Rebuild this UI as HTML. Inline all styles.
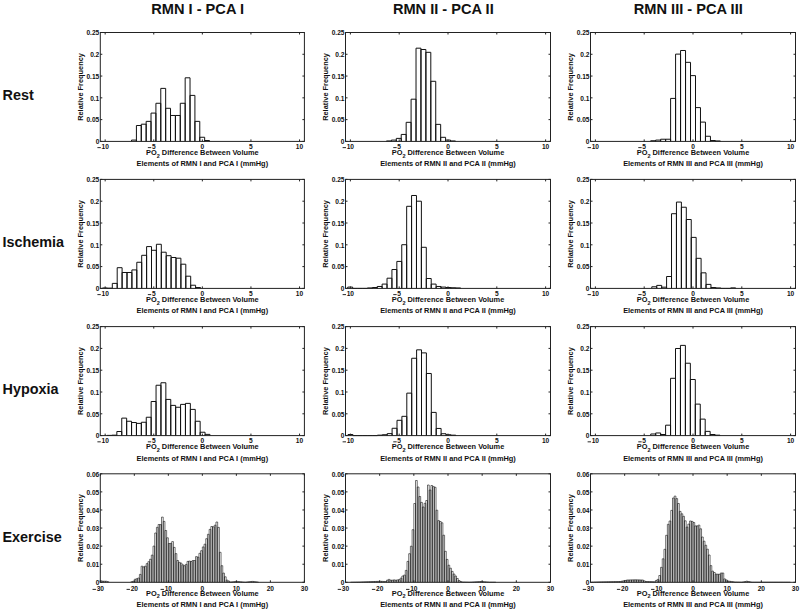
<!DOCTYPE html>
<html><head><meta charset="utf-8"><style>
html,body{margin:0;padding:0;background:#fff;}
svg{display:block;}
text{font-family:"Liberation Sans",sans-serif;fill:#111;}
.title{font-size:14.6px;font-weight:bold;}
.rowlab{font-size:14.4px;font-weight:bold;}
.tl{font-size:6.6px;font-weight:bold;}
.minus{fill:#111;}
.lab{font-size:7.4px;font-weight:bold;}
.box{fill:none;stroke:#222;stroke-width:1;}
.tick{fill:none;stroke:#222;stroke-width:1;}
.bars{fill:#fff;stroke:#111;stroke-width:1;}
.bars4{fill:#fff;stroke:#111;stroke-width:0.6;}
</style></head><body>
<svg width="800" height="613" viewBox="0 0 800 613">
<rect width="800" height="613" fill="#fff"/>
<text x="197.65" y="13.8" class="title" text-anchor="middle">RMN I - PCA I</text>
<text x="443.3" y="13.8" class="title" text-anchor="middle">RMN II - PCA II</text>
<text x="688.3" y="13.8" class="title" text-anchor="middle">RMN III - PCA III</text>
<text x="2.5" y="99.8" class="rowlab">Rest</text>
<text x="2.5" y="246.8" class="rowlab">Ischemia</text>
<text x="2.5" y="394.2" class="rowlab">Hypoxia</text>
<text x="2.5" y="541.5" class="rowlab">Exercise</text>
<path class="bars" d="M131.53 141.4V140.09H136.41V141.4M136.41 141.4V125.5H141.28V141.4M141.28 141.4V124.19H146.16V141.4M146.16 141.4V121.36H151.03V141.4M151.03 141.4V113.09H155.91V141.4M155.91 141.4V103.28H160.78V141.4M160.78 141.4V88.39H165.66V141.4M165.66 141.4V108.29H170.53V141.4M170.53 141.4V115.48H175.41V141.4M175.41 141.4V115.48H180.28V141.4M180.28 141.4V103.28H185.16V141.4M185.16 141.4V77.8H190.03V141.4M190.03 141.4V95.4H194.91V141.4M194.91 141.4V121.36H199.78V141.4M199.78 141.4V137.26H204.66V141.4M204.66 141.4V140.53H209.53V141.4"/>
<rect class="box" x="100.3" y="32.5" width="204.1" height="108.9"/>
<path class="tick" d="M105.16 141.4v-2M105.16 32.5v2M153.75 141.4v-2M153.75 32.5v2M202.35 141.4v-2M202.35 32.5v2M250.95 141.4v-2M250.95 32.5v2M299.54 141.4v-2M299.54 32.5v2M100.3 141.4h2M304.4 141.4h-2M100.3 119.62h2M304.4 119.62h-2M100.3 97.84h2M304.4 97.84h-2M100.3 76.06h2M304.4 76.06h-2M100.3 54.28h2M304.4 54.28h-2M100.3 32.5h2M304.4 32.5h-2"/>
<text class="tl" x="105.16" y="149" text-anchor="middle">10</text>
<rect class="minus" x="97.39" y="147.2" width="3.4" height="0.9"/>
<text class="tl" x="153.75" y="149" text-anchor="middle">5</text>
<rect class="minus" x="147.82" y="147.2" width="3.4" height="0.9"/>
<text class="tl" x="202.35" y="149" text-anchor="middle">0</text>
<text class="tl" x="250.95" y="149" text-anchor="middle">5</text>
<text class="tl" x="299.54" y="149" text-anchor="middle">10</text>
<text class="tl" x="99.3" y="144.2" text-anchor="end">0</text>
<text class="tl" x="99.3" y="122.42" text-anchor="end">0.05</text>
<text class="tl" x="99.3" y="100.64" text-anchor="end">0.1</text>
<text class="tl" x="99.3" y="78.86" text-anchor="end">0.15</text>
<text class="tl" x="99.3" y="57.08" text-anchor="end">0.2</text>
<text class="tl" x="99.3" y="35.3" text-anchor="end">0.25</text>
<text class="lab" transform="translate(82.9,86.95) rotate(-90)" text-anchor="middle">Relative Frequency</text>
<text class="lab" x="202.35" y="155" text-anchor="middle">PO<tspan dy="2.5" font-size="5.5">2</tspan><tspan dy="-2.5"> Difference Between Volume</tspan></text>
<text class="lab" x="202.35" y="166.3" text-anchor="middle">Elements of RMN I and PCA I (mmHg)</text>
<path class="bars" d="M386.44 141.4V140.96H391.37V141.4M391.37 141.4V140.09H396.3V141.4M396.3 141.4V138.39H401.23V141.4M401.23 141.4V134.43H406.16V141.4M406.16 141.4V122.32H411.09V141.4M411.09 141.4V99.19H416.02V141.4M416.02 141.4V48.18H420.95V141.4M420.95 141.4V49.49H425.88V141.4M425.88 141.4V52.32H430.81V141.4M430.81 141.4V81.29H435.74V141.4M435.74 141.4V124.37H440.67V141.4M440.67 141.4V137.31H445.6V141.4M445.6 141.4V140.09H450.53V141.4M450.53 141.4V140.96H455.46V141.4"/>
<rect class="box" x="345.5" y="32.5" width="205" height="108.9"/>
<path class="tick" d="M350.38 141.4v-2M350.38 32.5v2M399.19 141.4v-2M399.19 32.5v2M448 141.4v-2M448 32.5v2M496.81 141.4v-2M496.81 32.5v2M545.62 141.4v-2M545.62 32.5v2M345.5 141.4h2M550.5 141.4h-2M345.5 119.62h2M550.5 119.62h-2M345.5 97.84h2M550.5 97.84h-2M345.5 76.06h2M550.5 76.06h-2M345.5 54.28h2M550.5 54.28h-2M345.5 32.5h2M550.5 32.5h-2"/>
<text class="tl" x="350.38" y="149" text-anchor="middle">10</text>
<rect class="minus" x="342.61" y="147.2" width="3.4" height="0.9"/>
<text class="tl" x="399.19" y="149" text-anchor="middle">5</text>
<rect class="minus" x="393.26" y="147.2" width="3.4" height="0.9"/>
<text class="tl" x="448" y="149" text-anchor="middle">0</text>
<text class="tl" x="496.81" y="149" text-anchor="middle">5</text>
<text class="tl" x="545.62" y="149" text-anchor="middle">10</text>
<text class="tl" x="344.5" y="144.2" text-anchor="end">0</text>
<text class="tl" x="344.5" y="122.42" text-anchor="end">0.05</text>
<text class="tl" x="344.5" y="100.64" text-anchor="end">0.1</text>
<text class="tl" x="344.5" y="78.86" text-anchor="end">0.15</text>
<text class="tl" x="344.5" y="57.08" text-anchor="end">0.2</text>
<text class="tl" x="344.5" y="35.3" text-anchor="end">0.25</text>
<text class="lab" transform="translate(328.1,86.95) rotate(-90)" text-anchor="middle">Relative Frequency</text>
<text class="lab" x="448" y="155" text-anchor="middle">PO<tspan dy="2.5" font-size="5.5">2</tspan><tspan dy="-2.5"> Difference Between Volume</tspan></text>
<text class="lab" x="448" y="166.3" text-anchor="middle">Elements of RMN II and PCA II (mmHg)</text>
<path class="bars" d="M650.68 141.4V140.75H655.66V141.4M655.66 141.4V140.09H660.64V141.4M660.64 141.4V139.22H665.62V141.4M665.62 141.4V139.22H670.6V141.4M670.6 141.4V98.41H675.58V141.4M675.58 141.4V54.11H680.56V141.4M680.56 141.4V50.49H685.54V141.4M685.54 141.4V62.34H690.52V141.4M690.52 141.4V75.62H695.5V141.4M695.5 141.4V107.6H700.48V141.4M700.48 141.4V122.1H705.46V141.4M705.46 141.4V136.26H710.44V141.4M710.44 141.4V140.53H715.42V141.4M715.42 141.4V140.96H720.4V141.4"/>
<rect class="box" x="590.5" y="32.5" width="205" height="108.9"/>
<path class="tick" d="M595.38 141.4v-2M595.38 32.5v2M644.19 141.4v-2M644.19 32.5v2M693 141.4v-2M693 32.5v2M741.81 141.4v-2M741.81 32.5v2M790.62 141.4v-2M790.62 32.5v2M590.5 141.4h2M795.5 141.4h-2M590.5 119.62h2M795.5 119.62h-2M590.5 97.84h2M795.5 97.84h-2M590.5 76.06h2M795.5 76.06h-2M590.5 54.28h2M795.5 54.28h-2M590.5 32.5h2M795.5 32.5h-2"/>
<text class="tl" x="595.38" y="149" text-anchor="middle">10</text>
<rect class="minus" x="587.61" y="147.2" width="3.4" height="0.9"/>
<text class="tl" x="644.19" y="149" text-anchor="middle">5</text>
<rect class="minus" x="638.26" y="147.2" width="3.4" height="0.9"/>
<text class="tl" x="693" y="149" text-anchor="middle">0</text>
<text class="tl" x="741.81" y="149" text-anchor="middle">5</text>
<text class="tl" x="790.62" y="149" text-anchor="middle">10</text>
<text class="tl" x="589.5" y="144.2" text-anchor="end">0</text>
<text class="tl" x="589.5" y="122.42" text-anchor="end">0.05</text>
<text class="tl" x="589.5" y="100.64" text-anchor="end">0.1</text>
<text class="tl" x="589.5" y="78.86" text-anchor="end">0.15</text>
<text class="tl" x="589.5" y="57.08" text-anchor="end">0.2</text>
<text class="tl" x="589.5" y="35.3" text-anchor="end">0.25</text>
<text class="lab" transform="translate(573.1,86.95) rotate(-90)" text-anchor="middle">Relative Frequency</text>
<text class="lab" x="693" y="155" text-anchor="middle">PO<tspan dy="2.5" font-size="5.5">2</tspan><tspan dy="-2.5"> Difference Between Volume</tspan></text>
<text class="lab" x="693" y="166.3" text-anchor="middle">Elements of RMN III and PCA III (mmHg)</text>
<path class="bars" d="M102.5 288.4V287.96H107.4V288.4M107.4 288.4V288.18H112.3V288.4M112.3 288.4V283.39H117.2V288.4M117.2 288.4V267.69H122.1V288.4M122.1 288.4V272.49H127V288.4M127 288.4V272.49H131.9V288.4M131.9 288.4V269.91H136.8V288.4M136.8 288.4V262.28H141.7V288.4M141.7 288.4V255.31H146.6V288.4M146.6 288.4V246.59H151.5V288.4M151.5 288.4V250.29H156.4V288.4M156.4 288.4V244.28H161.3V288.4M161.3 288.4V252.21H166.2V288.4M166.2 288.4V255.7H171.1V288.4M171.1 288.4V257.49H176V288.4M176 288.4V258.19H180.9V288.4M180.9 288.4V264.2H185.8V288.4M185.8 288.4V276.19H190.7V288.4M190.7 288.4V285.22H195.6V288.4M195.6 288.4V287.53H200.5V288.4"/>
<rect class="box" x="100.3" y="179.4" width="204.1" height="109"/>
<path class="tick" d="M105.16 288.4v-2M105.16 179.4v2M153.75 288.4v-2M153.75 179.4v2M202.35 288.4v-2M202.35 179.4v2M250.95 288.4v-2M250.95 179.4v2M299.54 288.4v-2M299.54 179.4v2M100.3 288.4h2M304.4 288.4h-2M100.3 266.6h2M304.4 266.6h-2M100.3 244.8h2M304.4 244.8h-2M100.3 223h2M304.4 223h-2M100.3 201.2h2M304.4 201.2h-2M100.3 179.4h2M304.4 179.4h-2"/>
<text class="tl" x="105.16" y="296" text-anchor="middle">10</text>
<rect class="minus" x="97.39" y="294.2" width="3.4" height="0.9"/>
<text class="tl" x="153.75" y="296" text-anchor="middle">5</text>
<rect class="minus" x="147.82" y="294.2" width="3.4" height="0.9"/>
<text class="tl" x="202.35" y="296" text-anchor="middle">0</text>
<text class="tl" x="250.95" y="296" text-anchor="middle">5</text>
<text class="tl" x="299.54" y="296" text-anchor="middle">10</text>
<text class="tl" x="99.3" y="291.2" text-anchor="end">0</text>
<text class="tl" x="99.3" y="269.4" text-anchor="end">0.05</text>
<text class="tl" x="99.3" y="247.6" text-anchor="end">0.1</text>
<text class="tl" x="99.3" y="225.8" text-anchor="end">0.15</text>
<text class="tl" x="99.3" y="204" text-anchor="end">0.2</text>
<text class="tl" x="99.3" y="182.2" text-anchor="end">0.25</text>
<text class="lab" transform="translate(82.9,233.9) rotate(-90)" text-anchor="middle">Relative Frequency</text>
<text class="lab" x="202.35" y="302" text-anchor="middle">PO<tspan dy="2.5" font-size="5.5">2</tspan><tspan dy="-2.5"> Difference Between Volume</tspan></text>
<text class="lab" x="202.35" y="313.3" text-anchor="middle">Elements of RMN I and PCA I (mmHg)</text>
<path class="bars" d="M347.74 288.4V287.09H352.65V288.4M352.65 288.4V288.4H357.56V288.4M357.56 288.4V288.4H362.47V288.4M362.47 288.4V288.4H367.38V288.4M367.38 288.4V287.96H372.29V288.4M372.29 288.4V287.53H377.2V288.4M377.2 288.4V286.48H382.11V288.4M382.11 288.4V284.08H387.02V288.4M387.02 288.4V278.2H391.93V288.4M391.93 288.4V269.52H396.84V288.4M396.84 288.4V261.41H401.75V288.4M401.75 288.4V244.71H406.66V288.4M406.66 288.4V206.3H411.57V288.4M411.57 288.4V195.49H416.48V288.4M416.48 288.4V201.2H421.39V288.4M421.39 288.4V247.29H426.3V288.4M426.3 288.4V278.5H431.21V288.4M431.21 288.4V284.08H436.12V288.4M436.12 288.4V286.48H441.03V288.4M441.03 288.4V287.09H445.94V288.4M445.94 288.4V287.53H450.85V288.4M450.85 288.4V287.75H455.76V288.4M455.76 288.4V287.96H460.67V288.4"/>
<rect class="box" x="345.5" y="179.4" width="205" height="109"/>
<path class="tick" d="M350.38 288.4v-2M350.38 179.4v2M399.19 288.4v-2M399.19 179.4v2M448 288.4v-2M448 179.4v2M496.81 288.4v-2M496.81 179.4v2M545.62 288.4v-2M545.62 179.4v2M345.5 288.4h2M550.5 288.4h-2M345.5 266.6h2M550.5 266.6h-2M345.5 244.8h2M550.5 244.8h-2M345.5 223h2M550.5 223h-2M345.5 201.2h2M550.5 201.2h-2M345.5 179.4h2M550.5 179.4h-2"/>
<text class="tl" x="350.38" y="296" text-anchor="middle">10</text>
<rect class="minus" x="342.61" y="294.2" width="3.4" height="0.9"/>
<text class="tl" x="399.19" y="296" text-anchor="middle">5</text>
<rect class="minus" x="393.26" y="294.2" width="3.4" height="0.9"/>
<text class="tl" x="448" y="296" text-anchor="middle">0</text>
<text class="tl" x="496.81" y="296" text-anchor="middle">5</text>
<text class="tl" x="545.62" y="296" text-anchor="middle">10</text>
<text class="tl" x="344.5" y="291.2" text-anchor="end">0</text>
<text class="tl" x="344.5" y="269.4" text-anchor="end">0.05</text>
<text class="tl" x="344.5" y="247.6" text-anchor="end">0.1</text>
<text class="tl" x="344.5" y="225.8" text-anchor="end">0.15</text>
<text class="tl" x="344.5" y="204" text-anchor="end">0.2</text>
<text class="tl" x="344.5" y="182.2" text-anchor="end">0.25</text>
<text class="lab" transform="translate(328.1,233.9) rotate(-90)" text-anchor="middle">Relative Frequency</text>
<text class="lab" x="448" y="302" text-anchor="middle">PO<tspan dy="2.5" font-size="5.5">2</tspan><tspan dy="-2.5"> Difference Between Volume</tspan></text>
<text class="lab" x="448" y="313.3" text-anchor="middle">Elements of RMN II and PCA II (mmHg)</text>
<path class="bars" d="M651.8 288.4V286.79H656.73V288.4M656.73 288.4V285.39H661.66V288.4M661.66 288.4V287.18H666.59V288.4M666.59 288.4V276.5H671.52V288.4M671.52 288.4V213.71H676.45V288.4M676.45 288.4V202.07H681.38V288.4M681.38 288.4V207.22H686.31V288.4M686.31 288.4V219.51H691.24V288.4M691.24 288.4V237.39H696.17V288.4M696.17 288.4V258.32H701.1V288.4M701.1 288.4V272.83H706.03V288.4M706.03 288.4V284.39H710.96V288.4M710.96 288.4V287.53H715.89V288.4M715.89 288.4V287.96H720.82V288.4M720.82 288.4V288.4H725.75V288.4M725.75 288.4V288.4H730.68V288.4M730.68 288.4V287.88H735.61V288.4"/>
<rect class="box" x="590.5" y="179.4" width="205" height="109"/>
<path class="tick" d="M595.38 288.4v-2M595.38 179.4v2M644.19 288.4v-2M644.19 179.4v2M693 288.4v-2M693 179.4v2M741.81 288.4v-2M741.81 179.4v2M790.62 288.4v-2M790.62 179.4v2M590.5 288.4h2M795.5 288.4h-2M590.5 266.6h2M795.5 266.6h-2M590.5 244.8h2M795.5 244.8h-2M590.5 223h2M795.5 223h-2M590.5 201.2h2M795.5 201.2h-2M590.5 179.4h2M795.5 179.4h-2"/>
<text class="tl" x="595.38" y="296" text-anchor="middle">10</text>
<rect class="minus" x="587.61" y="294.2" width="3.4" height="0.9"/>
<text class="tl" x="644.19" y="296" text-anchor="middle">5</text>
<rect class="minus" x="638.26" y="294.2" width="3.4" height="0.9"/>
<text class="tl" x="693" y="296" text-anchor="middle">0</text>
<text class="tl" x="741.81" y="296" text-anchor="middle">5</text>
<text class="tl" x="790.62" y="296" text-anchor="middle">10</text>
<text class="tl" x="589.5" y="291.2" text-anchor="end">0</text>
<text class="tl" x="589.5" y="269.4" text-anchor="end">0.05</text>
<text class="tl" x="589.5" y="247.6" text-anchor="end">0.1</text>
<text class="tl" x="589.5" y="225.8" text-anchor="end">0.15</text>
<text class="tl" x="589.5" y="204" text-anchor="end">0.2</text>
<text class="tl" x="589.5" y="182.2" text-anchor="end">0.25</text>
<text class="lab" transform="translate(573.1,233.9) rotate(-90)" text-anchor="middle">Relative Frequency</text>
<text class="lab" x="693" y="302" text-anchor="middle">PO<tspan dy="2.5" font-size="5.5">2</tspan><tspan dy="-2.5"> Difference Between Volume</tspan></text>
<text class="lab" x="693" y="313.3" text-anchor="middle">Elements of RMN III and PCA III (mmHg)</text>
<path class="bars" d="M107.05 435.6V435.38H111.95V435.6M111.95 435.6V435.16H116.85V435.6M116.85 435.6V431.5H121.75V435.6M121.75 435.6V418.12H126.65V435.6M126.65 435.6V421.26H131.55V435.6M131.55 435.6V422.52H136.45V435.6M136.45 435.6V423.39H141.35V435.6M141.35 435.6V422.26H146.25V435.6M146.25 435.6V417.24H151.15V435.6M151.15 435.6V401.5H156.05V435.6M156.05 435.6V385.24H160.95V435.6M160.95 435.6V382.76H165.85V435.6M165.85 435.6V399.41H170.75V435.6M170.75 435.6V405.39H175.65V435.6M175.65 435.6V407.26H180.55V435.6M180.55 435.6V404.38H185.45V435.6M185.45 435.6V403.38H190.35V435.6M190.35 435.6V409.4H195.25V435.6M195.25 435.6V421.26H200.15V435.6M200.15 435.6V432.24H205.05V435.6M205.05 435.6V434.38H209.95V435.6"/>
<rect class="box" x="100.3" y="326.6" width="204.1" height="109"/>
<path class="tick" d="M105.16 435.6v-2M105.16 326.6v2M153.75 435.6v-2M153.75 326.6v2M202.35 435.6v-2M202.35 326.6v2M250.95 435.6v-2M250.95 326.6v2M299.54 435.6v-2M299.54 326.6v2M100.3 435.6h2M304.4 435.6h-2M100.3 413.8h2M304.4 413.8h-2M100.3 392h2M304.4 392h-2M100.3 370.2h2M304.4 370.2h-2M100.3 348.4h2M304.4 348.4h-2M100.3 326.6h2M304.4 326.6h-2"/>
<text class="tl" x="105.16" y="443.2" text-anchor="middle">10</text>
<rect class="minus" x="97.39" y="441.4" width="3.4" height="0.9"/>
<text class="tl" x="153.75" y="443.2" text-anchor="middle">5</text>
<rect class="minus" x="147.82" y="441.4" width="3.4" height="0.9"/>
<text class="tl" x="202.35" y="443.2" text-anchor="middle">0</text>
<text class="tl" x="250.95" y="443.2" text-anchor="middle">5</text>
<text class="tl" x="299.54" y="443.2" text-anchor="middle">10</text>
<text class="tl" x="99.3" y="438.4" text-anchor="end">0</text>
<text class="tl" x="99.3" y="416.6" text-anchor="end">0.05</text>
<text class="tl" x="99.3" y="394.8" text-anchor="end">0.1</text>
<text class="tl" x="99.3" y="373" text-anchor="end">0.15</text>
<text class="tl" x="99.3" y="351.2" text-anchor="end">0.2</text>
<text class="tl" x="99.3" y="329.4" text-anchor="end">0.25</text>
<text class="lab" transform="translate(82.9,381.1) rotate(-90)" text-anchor="middle">Relative Frequency</text>
<text class="lab" x="202.35" y="449.2" text-anchor="middle">PO<tspan dy="2.5" font-size="5.5">2</tspan><tspan dy="-2.5"> Difference Between Volume</tspan></text>
<text class="lab" x="202.35" y="460.5" text-anchor="middle">Elements of RMN I and PCA I (mmHg)</text>
<path class="bars" d="M348 435.6V434.51H352.9V435.6M352.9 435.6V435.6H357.8V435.6M357.8 435.6V435.6H362.7V435.6M362.7 435.6V435.6H367.6V435.6M367.6 435.6V435.6H372.5V435.6M372.5 435.6V435.6H377.4V435.6M377.4 435.6V435.16H382.3V435.6M382.3 435.6V434.73H387.2V435.6M387.2 435.6V433.64H392.1V435.6M392.1 435.6V428.28H397V435.6M397 435.6V420.3H401.9V435.6M401.9 435.6V416.33H406.8V435.6M406.8 435.6V393.13H411.7V435.6M411.7 435.6V358.25H416.6V435.6M416.6 435.6V349.84H421.5V435.6M421.5 435.6V352.89H426.4V435.6M426.4 435.6V373.47H431.3V435.6M431.3 435.6V412.4H436.2V435.6M436.2 435.6V428.45H441.1V435.6M441.1 435.6V433.73H446V435.6M446 435.6V434.73H450.9V435.6M450.9 435.6V435.16H455.8V435.6"/>
<rect class="box" x="345.5" y="326.6" width="205" height="109"/>
<path class="tick" d="M350.38 435.6v-2M350.38 326.6v2M399.19 435.6v-2M399.19 326.6v2M448 435.6v-2M448 326.6v2M496.81 435.6v-2M496.81 326.6v2M545.62 435.6v-2M545.62 326.6v2M345.5 435.6h2M550.5 435.6h-2M345.5 413.8h2M550.5 413.8h-2M345.5 392h2M550.5 392h-2M345.5 370.2h2M550.5 370.2h-2M345.5 348.4h2M550.5 348.4h-2M345.5 326.6h2M550.5 326.6h-2"/>
<text class="tl" x="350.38" y="443.2" text-anchor="middle">10</text>
<rect class="minus" x="342.61" y="441.4" width="3.4" height="0.9"/>
<text class="tl" x="399.19" y="443.2" text-anchor="middle">5</text>
<rect class="minus" x="393.26" y="441.4" width="3.4" height="0.9"/>
<text class="tl" x="448" y="443.2" text-anchor="middle">0</text>
<text class="tl" x="496.81" y="443.2" text-anchor="middle">5</text>
<text class="tl" x="545.62" y="443.2" text-anchor="middle">10</text>
<text class="tl" x="344.5" y="438.4" text-anchor="end">0</text>
<text class="tl" x="344.5" y="416.6" text-anchor="end">0.05</text>
<text class="tl" x="344.5" y="394.8" text-anchor="end">0.1</text>
<text class="tl" x="344.5" y="373" text-anchor="end">0.15</text>
<text class="tl" x="344.5" y="351.2" text-anchor="end">0.2</text>
<text class="tl" x="344.5" y="329.4" text-anchor="end">0.25</text>
<text class="lab" transform="translate(328.1,381.1) rotate(-90)" text-anchor="middle">Relative Frequency</text>
<text class="lab" x="448" y="449.2" text-anchor="middle">PO<tspan dy="2.5" font-size="5.5">2</tspan><tspan dy="-2.5"> Difference Between Volume</tspan></text>
<text class="lab" x="448" y="460.5" text-anchor="middle">Elements of RMN II and PCA II (mmHg)</text>
<path class="bars" d="M650.75 435.6V433.99H655.7V435.6M655.7 435.6V432.98H660.65V435.6M660.65 435.6V434.51H665.6V435.6M665.6 435.6V425.18H670.55V435.6M670.55 435.6V378.31H675.5V435.6M675.5 435.6V348.49H680.45V435.6M680.45 435.6V345.39H685.4V435.6M685.4 435.6V363.22H690.35V435.6M690.35 435.6V379.49H695.3V435.6M695.3 435.6V404.12H700.25V435.6M700.25 435.6V419.12H705.2V435.6M705.2 435.6V431.37H710.15V435.6M710.15 435.6V434.51H715.1V435.6M715.1 435.6V435.16H720.05V435.6"/>
<rect class="box" x="590.5" y="326.6" width="205" height="109"/>
<path class="tick" d="M595.38 435.6v-2M595.38 326.6v2M644.19 435.6v-2M644.19 326.6v2M693 435.6v-2M693 326.6v2M741.81 435.6v-2M741.81 326.6v2M790.62 435.6v-2M790.62 326.6v2M590.5 435.6h2M795.5 435.6h-2M590.5 413.8h2M795.5 413.8h-2M590.5 392h2M795.5 392h-2M590.5 370.2h2M795.5 370.2h-2M590.5 348.4h2M795.5 348.4h-2M590.5 326.6h2M795.5 326.6h-2"/>
<text class="tl" x="595.38" y="443.2" text-anchor="middle">10</text>
<rect class="minus" x="587.61" y="441.4" width="3.4" height="0.9"/>
<text class="tl" x="644.19" y="443.2" text-anchor="middle">5</text>
<rect class="minus" x="638.26" y="441.4" width="3.4" height="0.9"/>
<text class="tl" x="693" y="443.2" text-anchor="middle">0</text>
<text class="tl" x="741.81" y="443.2" text-anchor="middle">5</text>
<text class="tl" x="790.62" y="443.2" text-anchor="middle">10</text>
<text class="tl" x="589.5" y="438.4" text-anchor="end">0</text>
<text class="tl" x="589.5" y="416.6" text-anchor="end">0.05</text>
<text class="tl" x="589.5" y="394.8" text-anchor="end">0.1</text>
<text class="tl" x="589.5" y="373" text-anchor="end">0.15</text>
<text class="tl" x="589.5" y="351.2" text-anchor="end">0.2</text>
<text class="tl" x="589.5" y="329.4" text-anchor="end">0.25</text>
<text class="lab" transform="translate(573.1,381.1) rotate(-90)" text-anchor="middle">Relative Frequency</text>
<text class="lab" x="693" y="449.2" text-anchor="middle">PO<tspan dy="2.5" font-size="5.5">2</tspan><tspan dy="-2.5"> Difference Between Volume</tspan></text>
<text class="lab" x="693" y="460.5" text-anchor="middle">Elements of RMN III and PCA III (mmHg)</text>
<path class="bars4" d="M100.3 582.3V580.8H102V582.3M102 582.3V581.2H103.7V582.3M103.7 582.3V581.22H105.4V582.3M105.4 582.3V581.25H107.1V582.3M107.1 582.3V581.69H108.8V582.3M130.91 582.3V581.7H132.62V582.3M132.62 582.3V581.3H134.32V582.3M134.32 582.3V579.25H136.02V582.3M136.02 582.3V578.71H137.72V582.3M137.72 582.3V578H139.42V582.3M139.42 582.3V574.4H141.12V582.3M141.12 582.3V566.2H142.82V582.3M142.82 582.3V566.9H144.52V582.3M144.52 582.3V566.2H146.22V582.3M146.22 582.3V563.6H147.92V582.3M147.92 582.3V561.7H149.62V582.3M149.62 582.3V559.25H151.32V582.3M151.32 582.3V555.1H153.03V582.3M153.03 582.3V546.1H154.73V582.3M154.73 582.3V533H156.43V582.3M156.43 582.3V527.3H158.13V582.3M158.13 582.3V524.5H159.83V582.3M159.83 582.3V524.6H161.53V582.3M161.53 582.3V517.1H163.23V582.3M163.23 582.3V521.4H164.93V582.3M164.93 582.3V530.5H166.63V582.3M166.63 582.3V537.8H168.33V582.3M168.33 582.3V543.5H170.03V582.3M170.03 582.3V543.4H171.73V582.3M171.73 582.3V541.6H173.44V582.3M173.44 582.3V547.4H175.14V582.3M175.14 582.3V553.6H176.84V582.3M176.84 582.3V560.5H178.54V582.3M178.54 582.3V562.4H180.24V582.3M180.24 582.3V563.1H181.94V582.3M181.94 582.3V564.8H183.64V582.3M183.64 582.3V565.7H185.34V582.3M185.34 582.3V564.4H187.04V582.3M187.04 582.3V561.4H188.74V582.3M188.74 582.3V561.1H190.44V582.3M190.44 582.3V561.5H192.14V582.3M192.14 582.3V560.5H193.85V582.3M193.85 582.3V560.5H195.55V582.3M195.55 582.3V556.6H197.25V582.3M197.25 582.3V557.2H198.95V582.3M198.95 582.3V553.3H200.65V582.3M200.65 582.3V550.7H202.35V582.3M202.35 582.3V546.95H204.05V582.3M204.05 582.3V544.2H205.75V582.3M205.75 582.3V538.7H207.45V582.3M207.45 582.3V534.3H209.15V582.3M209.15 582.3V529.4H210.85V582.3M210.85 582.3V526.5H212.56V582.3M212.56 582.3V526.8H214.26V582.3M214.26 582.3V525.2H215.96V582.3M215.96 582.3V522H217.66V582.3M217.66 582.3V527.4H219.36V582.3M219.36 582.3V552.3H221.06V582.3M221.06 582.3V565.7H222.76V582.3M222.76 582.3V573.1H224.46V582.3M224.46 582.3V576.8H226.16V582.3M226.16 582.3V580.1H227.86V582.3M227.86 582.3V581H229.56V582.3M229.56 582.3V582H231.26V582.3M231.26 582.3V581.88H232.96V582.3M232.96 582.3V581.71H234.67V582.3M234.67 582.3V581.53H236.37V582.3M236.37 582.3V581.4H238.07V582.3M238.07 582.3V581.61H239.77V582.3M239.77 582.3V581.77H241.47V582.3M241.47 582.3V581.94H243.17V582.3M243.17 582.3V582.1H244.87V582.3M244.87 582.3V582.2H246.57V582.3M246.57 582.3V581.94H248.27V582.3M248.27 582.3V581.75H249.97V582.3M249.97 582.3V581.57H251.67V582.3M251.67 582.3V581.4H253.38V582.3M253.38 582.3V581.62H255.08V582.3M255.08 582.3V581.82H256.78V582.3M256.78 582.3V582.02H258.48V582.3"/>
<rect class="box" x="100.3" y="473.8" width="204.1" height="108.5"/>
<path class="tick" d="M100.3 582.3v-2M100.3 473.8v2M134.32 582.3v-2M134.32 473.8v2M168.33 582.3v-2M168.33 473.8v2M202.35 582.3v-2M202.35 473.8v2M236.37 582.3v-2M236.37 473.8v2M270.38 582.3v-2M270.38 473.8v2M304.4 582.3v-2M304.4 473.8v2M100.3 582.3h2M304.4 582.3h-2M100.3 564.22h2M304.4 564.22h-2M100.3 546.13h2M304.4 546.13h-2M100.3 528.05h2M304.4 528.05h-2M100.3 509.97h2M304.4 509.97h-2M100.3 491.88h2M304.4 491.88h-2M100.3 473.8h2M304.4 473.8h-2"/>
<text class="tl" x="100.3" y="590.7" text-anchor="middle">30</text>
<rect class="minus" x="92.53" y="588.9" width="3.4" height="0.9"/>
<text class="tl" x="134.32" y="590.7" text-anchor="middle">20</text>
<rect class="minus" x="126.55" y="588.9" width="3.4" height="0.9"/>
<text class="tl" x="168.33" y="590.7" text-anchor="middle">10</text>
<rect class="minus" x="160.56" y="588.9" width="3.4" height="0.9"/>
<text class="tl" x="202.35" y="590.7" text-anchor="middle">0</text>
<text class="tl" x="236.37" y="590.7" text-anchor="middle">10</text>
<text class="tl" x="270.38" y="590.7" text-anchor="middle">20</text>
<text class="tl" x="304.4" y="590.7" text-anchor="middle">30</text>
<text class="tl" x="99.3" y="585.1" text-anchor="end">0</text>
<text class="tl" x="99.3" y="567.02" text-anchor="end">0.01</text>
<text class="tl" x="99.3" y="548.93" text-anchor="end">0.02</text>
<text class="tl" x="99.3" y="530.85" text-anchor="end">0.03</text>
<text class="tl" x="99.3" y="512.77" text-anchor="end">0.04</text>
<text class="tl" x="99.3" y="494.68" text-anchor="end">0.05</text>
<text class="tl" x="99.3" y="476.6" text-anchor="end">0.06</text>
<text class="lab" transform="translate(82.9,528.05) rotate(-90)" text-anchor="middle">Relative Frequency</text>
<text class="lab" x="202.35" y="595.9" text-anchor="middle">PO<tspan dy="2.5" font-size="5.5">2</tspan><tspan dy="-2.5"> Difference Between Volume</tspan></text>
<text class="lab" x="202.35" y="607.2" text-anchor="middle">Elements of RMN I and PCA I (mmHg)</text>
<path class="bars4" d="M350.62 582.3V582.18H352.33V582.3M352.33 582.3V582.15H354.04V582.3M354.04 582.3V582.11H355.75V582.3M355.75 582.3V582.07H357.46V582.3M357.46 582.3V582.04H359.17V582.3M359.17 582.3V582H360.88V582.3M360.88 582.3V581.94H362.58V582.3M362.58 582.3V581.88H364.29V582.3M364.29 582.3V581.83H366V582.3M366 582.3V581.77H367.71V582.3M367.71 582.3V581.71H369.42V582.3M369.42 582.3V581.65H371.12V582.3M371.12 582.3V581.59H372.83V582.3M372.83 582.3V581.53H374.54V582.3M374.54 582.3V581.48H376.25V582.3M376.25 582.3V581.42H377.96V582.3M377.96 582.3V581.36H379.67V582.3M379.67 582.3V581.3H381.38V582.3M381.38 582.3V581.37H383.08V582.3M383.08 582.3V581.45H384.79V582.3M384.79 582.3V581.5H386.5V582.3M386.5 582.3V580.2H388.21V582.3M388.21 582.3V579.4H389.92V582.3M389.92 582.3V580.2H391.62V582.3M391.62 582.3V580.2H393.33V582.3M393.33 582.3V579.9H395.04V582.3M395.04 582.3V580.2H396.75V582.3M396.75 582.3V579.9H398.46V582.3M398.46 582.3V579.6H400.17V582.3M400.17 582.3V578.1H401.88V582.3M401.88 582.3V576H403.58V582.3M403.58 582.3V575.1H405.29V582.3M405.29 582.3V570.4H407V582.3M407 582.3V561.4H408.71V582.3M408.71 582.3V553.7H410.42V582.3M410.42 582.3V546.2H412.12V582.3M412.12 582.3V529.7H413.83V582.3M413.83 582.3V503.5H415.54V582.3M415.54 582.3V480.5H417.25V582.3M417.25 582.3V487H418.96V582.3M418.96 582.3V496.5H420.67V582.3M420.67 582.3V502.4H422.38V582.3M422.38 582.3V507H424.08V582.3M424.08 582.3V503.3H425.79V582.3M425.79 582.3V500.5H427.5V582.3M427.5 582.3V485H429.21V582.3M429.21 582.3V490H430.92V582.3M430.92 582.3V485.5H432.62V582.3M432.62 582.3V486.6H434.33V582.3M434.33 582.3V487.3H436.04V582.3M436.04 582.3V510.2H437.75V582.3M437.75 582.3V520.6H439.46V582.3M439.46 582.3V521.5H441.17V582.3M441.17 582.3V522.8H442.88V582.3M442.88 582.3V535.2H444.58V582.3M444.58 582.3V551.3H446.29V582.3M446.29 582.3V559.4H448V582.3M448 582.3V565.2H449.71V582.3M449.71 582.3V568.2H451.42V582.3M451.42 582.3V571.4H453.12V582.3M453.12 582.3V574H454.83V582.3M454.83 582.3V576H456.54V582.3M456.54 582.3V578.5H458.25V582.3M458.25 582.3V580.5H459.96V582.3M459.96 582.3V581.5H461.67V582.3M461.67 582.3V582H463.38V582.3M463.38 582.3V582.04H465.08V582.3M465.08 582.3V582.08H466.79V582.3M466.79 582.3V582.13H468.5V582.3M468.5 582.3V582.2H470.21V582.3M470.21 582.3V582.13H471.92V582.3M471.92 582.3V582.03H473.62V582.3M473.62 582.3V581.92H475.33V582.3M475.33 582.3V581.82H477.04V582.3M477.04 582.3V581.71H478.75V582.3M478.75 582.3V581.61H480.46V582.3M480.46 582.3V581.5H482.17V582.3M482.17 582.3V581.64H483.88V582.3M483.88 582.3V581.78H485.58V582.3M485.58 582.3V581.91H487.29V582.3M487.29 582.3V582.05H489V582.3M489 582.3V582.2H490.71V582.3M490.71 582.3V582.2H492.42V582.3M492.42 582.3V582.21H494.12V582.3M494.12 582.3V582.21H495.83V582.3"/>
<rect class="box" x="345.5" y="473.8" width="205" height="108.5"/>
<path class="tick" d="M345.5 582.3v-2M345.5 473.8v2M379.67 582.3v-2M379.67 473.8v2M413.83 582.3v-2M413.83 473.8v2M448 582.3v-2M448 473.8v2M482.17 582.3v-2M482.17 473.8v2M516.33 582.3v-2M516.33 473.8v2M550.5 582.3v-2M550.5 473.8v2M345.5 582.3h2M550.5 582.3h-2M345.5 564.22h2M550.5 564.22h-2M345.5 546.13h2M550.5 546.13h-2M345.5 528.05h2M550.5 528.05h-2M345.5 509.97h2M550.5 509.97h-2M345.5 491.88h2M550.5 491.88h-2M345.5 473.8h2M550.5 473.8h-2"/>
<text class="tl" x="345.5" y="590.7" text-anchor="middle">30</text>
<rect class="minus" x="337.73" y="588.9" width="3.4" height="0.9"/>
<text class="tl" x="379.67" y="590.7" text-anchor="middle">20</text>
<rect class="minus" x="371.9" y="588.9" width="3.4" height="0.9"/>
<text class="tl" x="413.83" y="590.7" text-anchor="middle">10</text>
<rect class="minus" x="406.06" y="588.9" width="3.4" height="0.9"/>
<text class="tl" x="448" y="590.7" text-anchor="middle">0</text>
<text class="tl" x="482.17" y="590.7" text-anchor="middle">10</text>
<text class="tl" x="516.33" y="590.7" text-anchor="middle">20</text>
<text class="tl" x="550.5" y="590.7" text-anchor="middle">30</text>
<text class="tl" x="344.5" y="585.1" text-anchor="end">0</text>
<text class="tl" x="344.5" y="567.02" text-anchor="end">0.01</text>
<text class="tl" x="344.5" y="548.93" text-anchor="end">0.02</text>
<text class="tl" x="344.5" y="530.85" text-anchor="end">0.03</text>
<text class="tl" x="344.5" y="512.77" text-anchor="end">0.04</text>
<text class="tl" x="344.5" y="494.68" text-anchor="end">0.05</text>
<text class="tl" x="344.5" y="476.6" text-anchor="end">0.06</text>
<text class="lab" transform="translate(328.1,528.05) rotate(-90)" text-anchor="middle">Relative Frequency</text>
<text class="lab" x="448" y="595.9" text-anchor="middle">PO<tspan dy="2.5" font-size="5.5">2</tspan><tspan dy="-2.5"> Difference Between Volume</tspan></text>
<text class="lab" x="448" y="607.2" text-anchor="middle">Elements of RMN II and PCA II (mmHg)</text>
<path class="bars4" d="M592.21 582.3V582.15H593.92V582.3M593.92 582.3V582H595.62V582.3M595.62 582.3V581.97H597.33V582.3M597.33 582.3V581.94H599.04V582.3M599.04 582.3V581.9H600.75V582.3M600.75 582.3V581.87H602.46V582.3M602.46 582.3V581.83H604.17V582.3M604.17 582.3V581.8H605.88V582.3M605.88 582.3V581.77H607.58V582.3M607.58 582.3V581.73H609.29V582.3M609.29 582.3V581.7H611V582.3M611 582.3V581.66H612.71V582.3M612.71 582.3V581.63H614.42V582.3M614.42 582.3V581.59H616.12V582.3M616.12 582.3V581.56H617.83V582.3M617.83 582.3V581.53H619.54V582.3M619.54 582.3V581.5H621.25V582.3M621.25 582.3V581.11H622.96V582.3M622.96 582.3V580.79H624.67V582.3M624.67 582.3V580.46H626.38V582.3M626.38 582.3V580H628.08V582.3M628.08 582.3V579.97H629.79V582.3M629.79 582.3V579.92H631.5V582.3M631.5 582.3V579.88H633.21V582.3M633.21 582.3V579.83H634.92V582.3M634.92 582.3V579.8H636.62V582.3M636.62 582.3V579.87H638.33V582.3M638.33 582.3V579.92H640.04V582.3M640.04 582.3V579.97H641.75V582.3M641.75 582.3V580H643.46V582.3M643.46 582.3V580.87H645.17V582.3M645.17 582.3V581.5H646.88V582.3M646.88 582.3V581.56H648.58V582.3M648.58 582.3V581.61H650.29V582.3M650.29 582.3V581.67H652V582.3M652 582.3V581.73H653.71V582.3M653.71 582.3V581.8H655.42V582.3M655.42 582.3V580.47H657.12V582.3M657.12 582.3V579.4H658.83V582.3M658.83 582.3V575.5H660.54V582.3M660.54 582.3V567.35H662.25V582.3M662.25 582.3V558.8H663.96V582.3M663.96 582.3V549.3H665.67V582.3M665.67 582.3V535.3H667.38V582.3M667.38 582.3V524.3H669.08V582.3M669.08 582.3V521H670.79V582.3M670.79 582.3V510.4H672.5V582.3M672.5 582.3V498H674.21V582.3M674.21 582.3V496.1H675.92V582.3M675.92 582.3V498.6H677.62V582.3M677.62 582.3V503.5H679.33V582.3M679.33 582.3V511.4H681.04V582.3M681.04 582.3V513.8H682.75V582.3M682.75 582.3V516.3H684.46V582.3M684.46 582.3V520.8H686.17V582.3M686.17 582.3V527.1H687.88V582.3M687.88 582.3V524.1H689.58V582.3M689.58 582.3V521H691.29V582.3M691.29 582.3V521.4H693V582.3M693 582.3V522.5H694.71V582.3M694.71 582.3V525.9H696.42V582.3M696.42 582.3V525.9H698.12V582.3M698.12 582.3V525.12H699.83V582.3M699.83 582.3V528.8H701.54V582.3M701.54 582.3V537H703.25V582.3M703.25 582.3V541.2H704.96V582.3M704.96 582.3V545.26H706.67V582.3M706.67 582.3V549.2H708.38V582.3M708.38 582.3V555H710.08V582.3M710.08 582.3V565.6H711.79V582.3M711.79 582.3V571.1H713.5V582.3M713.5 582.3V572.5H715.21V582.3M715.21 582.3V574.1H716.92V582.3M716.92 582.3V574.2H718.62V582.3M718.62 582.3V574.3H720.33V582.3M720.33 582.3V573H722.04V582.3M722.04 582.3V573H723.75V582.3M723.75 582.3V578.9H725.46V582.3M725.46 582.3V579.9H727.17V582.3M727.17 582.3V581H728.88V582.3M728.88 582.3V581.24H730.58V582.3M730.58 582.3V581.48H732.29V582.3M732.29 582.3V581.73H734V582.3M734 582.3V582H735.71V582.3M735.71 582.3V582.04H737.42V582.3M737.42 582.3V582.09H739.12V582.3M739.12 582.3V582.14H740.83V582.3M740.83 582.3V582.2H742.54V582.3M742.54 582.3V581.92H744.25V582.3M744.25 582.3V581.58H745.96V582.3M745.96 582.3V581.2H747.67V582.3M747.67 582.3V581.5H749.38V582.3M749.38 582.3V581.85H751.08V582.3M751.08 582.3V582.2H752.79V582.3M752.79 582.3V582.2H754.5V582.3M754.5 582.3V582.2H756.21V582.3M756.21 582.3V582.2H757.92V582.3M757.92 582.3V582.2H759.62V582.3M759.62 582.3V582.2H761.33V582.3M761.33 582.3V582.2H763.04V582.3M763.04 582.3V582.2H764.75V582.3M764.75 582.3V582.2H766.46V582.3M766.46 582.3V582.2H768.17V582.3M768.17 582.3V582.2H769.88V582.3M769.88 582.3V582.2H771.58V582.3M771.58 582.3V582.2H773.29V582.3M773.29 582.3V582.2H775V582.3M775 582.3V582.2H776.71V582.3M776.71 582.3V582.2H778.42V582.3M778.42 582.3V582.2H780.12V582.3M780.12 582.3V582.2H781.83V582.3M781.83 582.3V582.2H783.54V582.3M783.54 582.3V582.2H785.25V582.3M785.25 582.3V582.2H786.96V582.3M786.96 582.3V582.2H788.67V582.3M788.67 582.3V582.2H790.38V582.3"/>
<rect class="box" x="590.5" y="473.8" width="205" height="108.5"/>
<path class="tick" d="M590.5 582.3v-2M590.5 473.8v2M624.67 582.3v-2M624.67 473.8v2M658.83 582.3v-2M658.83 473.8v2M693 582.3v-2M693 473.8v2M727.17 582.3v-2M727.17 473.8v2M761.33 582.3v-2M761.33 473.8v2M795.5 582.3v-2M795.5 473.8v2M590.5 582.3h2M795.5 582.3h-2M590.5 564.22h2M795.5 564.22h-2M590.5 546.13h2M795.5 546.13h-2M590.5 528.05h2M795.5 528.05h-2M590.5 509.97h2M795.5 509.97h-2M590.5 491.88h2M795.5 491.88h-2M590.5 473.8h2M795.5 473.8h-2"/>
<text class="tl" x="590.5" y="590.7" text-anchor="middle">30</text>
<rect class="minus" x="582.73" y="588.9" width="3.4" height="0.9"/>
<text class="tl" x="624.67" y="590.7" text-anchor="middle">20</text>
<rect class="minus" x="616.9" y="588.9" width="3.4" height="0.9"/>
<text class="tl" x="658.83" y="590.7" text-anchor="middle">10</text>
<rect class="minus" x="651.06" y="588.9" width="3.4" height="0.9"/>
<text class="tl" x="693" y="590.7" text-anchor="middle">0</text>
<text class="tl" x="727.17" y="590.7" text-anchor="middle">10</text>
<text class="tl" x="761.33" y="590.7" text-anchor="middle">20</text>
<text class="tl" x="795.5" y="590.7" text-anchor="middle">30</text>
<text class="tl" x="589.5" y="585.1" text-anchor="end">0</text>
<text class="tl" x="589.5" y="567.02" text-anchor="end">0.01</text>
<text class="tl" x="589.5" y="548.93" text-anchor="end">0.02</text>
<text class="tl" x="589.5" y="530.85" text-anchor="end">0.03</text>
<text class="tl" x="589.5" y="512.77" text-anchor="end">0.04</text>
<text class="tl" x="589.5" y="494.68" text-anchor="end">0.05</text>
<text class="tl" x="589.5" y="476.6" text-anchor="end">0.06</text>
<text class="lab" transform="translate(573.1,528.05) rotate(-90)" text-anchor="middle">Relative Frequency</text>
<text class="lab" x="693" y="595.9" text-anchor="middle">PO<tspan dy="2.5" font-size="5.5">2</tspan><tspan dy="-2.5"> Difference Between Volume</tspan></text>
<text class="lab" x="693" y="607.2" text-anchor="middle">Elements of RMN III and PCA III (mmHg)</text>
</svg></body></html>
